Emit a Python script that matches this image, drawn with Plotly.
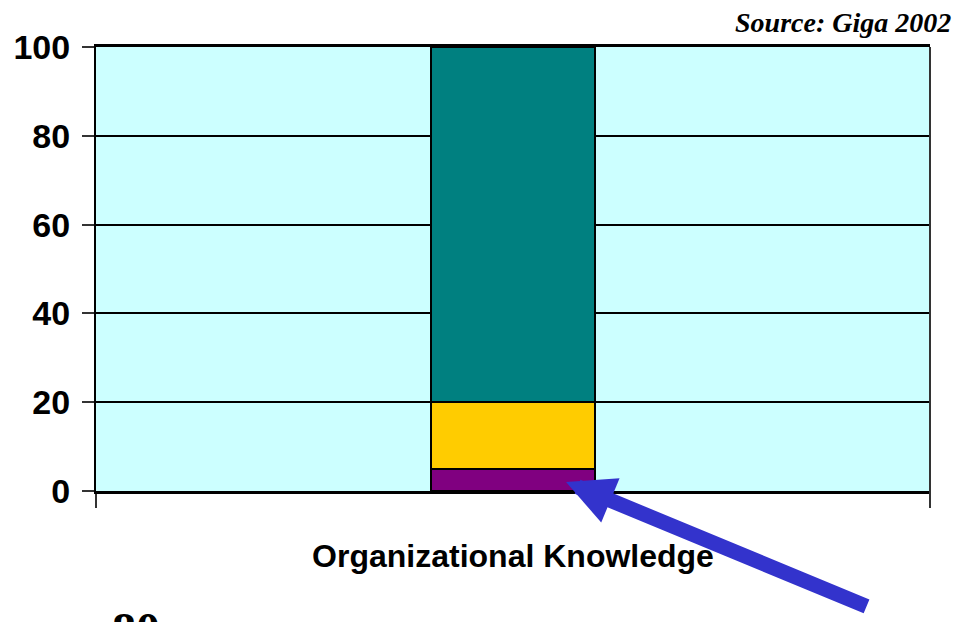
import plotly.graph_objects as go

categories = ["Organizational Knowledge"]
series_names = ["Purple", "Yellow", "Teal"]
purple_vals = [5]
yellow_vals = [15]
teal_vals = [80]
y_ticks = [0, 20, 40, 60, 80, 100]

SANS = "Liberation Sans, Arial, sans-serif"
SERIF = "Liberation Serif, Times New Roman, serif"

fig = go.Figure()
for name, vals, col in [(series_names[0], purple_vals, "#800080"),
                        (series_names[1], yellow_vals, "#FFCC00"),
                        (series_names[2], teal_vals, "#008080")]:
    fig.add_trace(go.Bar(x=categories, y=vals, name=name, width=0.197,
                         marker=dict(color=col, line=dict(color="black", width=2))))

fig.update_layout(
    barmode="stack",
    width=972, height=622,
    margin=dict(l=88, r=50, t=39, b=139),
    paper_bgcolor="white",
    plot_bgcolor="#CCFFFF",
    showlegend=False,
)
fig.update_yaxes(range=[0, 100], tickvals=y_ticks, showgrid=True, gridcolor="black", gridwidth=2,
                 showline=True, linecolor="black", linewidth=2, ticks="outside", ticklen=12,
                 tickwidth=2, tickcolor="#333", ticklabelstandoff=5, automargin=False,
                 tickfont=dict(family=SANS, size=34, color="black", weight="bold"),
                 zeroline=False, mirror=False)
fig.update_xaxes(range=[-0.5, 0.5], showline=True, linecolor="black", linewidth=3, mirror=True,
                 ticks="outside", tickson="boundaries", ticklen=14, tickwidth=2, tickcolor="#333",
                 ticklabelstandoff=35, automargin=False,
                 tickfont=dict(family=SANS, size=32, color="black", weight="bold"))
# right border
fig.add_shape(type="line", xref="paper", yref="paper", x0=1, x1=1, y0=0, y1=1,
              line=dict(color="#333", width=2))
fig.add_shape(type="line", xref="paper", yref="paper", x0=1, x1=1, y0=0, y1=-0.033,
              line=dict(color="#333", width=2))

fig.add_annotation(text="<b><i>Source: Giga 2002</i></b>", xref="paper", yref="paper",
                   x=1.0276, y=1.016, xanchor="right", yanchor="bottom", showarrow=False,
                   font=dict(family=SERIF, size=28, color="black"))
fig.add_annotation(text="<b>80</b>", xref="paper", yref="paper", x=0.048, y=-0.313,
                   xanchor="center", yanchor="middle", showarrow=False,
                   font=dict(family=SERIF, size=48, color="black"))
fig.add_annotation(text="", xref="paper", yref="paper", x=0.5636, y=0.0203,
                   ax=302, ay=125, showarrow=True, arrowhead=2, arrowwidth=15, arrowsize=0.64,
                   arrowcolor="#3333CC")

fig.write_html("out.html")
